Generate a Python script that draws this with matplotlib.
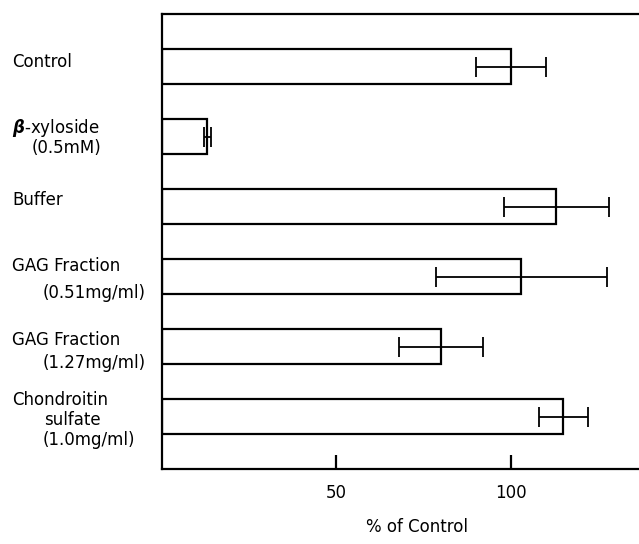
import numpy as np
import matplotlib
matplotlib.use("Agg")
import matplotlib.pyplot as plt
import matplotlib.transforms as mtransforms

# values (% of control)
groups = ["Control", "beta-xyloside", "Buffer", "GAG 0.51", "GAG 1.27", "Chondroitin"]
values = [100, 13, 113, 103, 80, 115]
errors = [10, 1, 15, 24.5, 12, 7]

# label lines per bar: (text, indent in px, vertical offset in bar units)
label_lines = [
    [("Control", 12, -0.07)],
    [(r"$\boldsymbol{\beta}$-xyloside", 12, -0.12), ("(0.5mM)", 32, 0.17)],
    [("Buffer", 12, -0.09)],
    [("GAG Fraction", 12, -0.15), ("(0.51mg/ml)", 43, 0.23)],
    [("GAG Fraction", 12, -0.09), ("(1.27mg/ml)", 43, 0.24)],
    [("Chondroitin", 12, -0.23), ("sulfate", 44, 0.05), ("(1.0mg/ml)", 43, 0.34)],
]
xticks = [50, 100]
xtick_labels = ["50", "100"]

plt.rcParams["font.family"] = ["DejaVu Sans"]
plt.rcParams["mathtext.fontset"] = "dejavusans"

fig = plt.figure(figsize=(6.39, 5.44), dpi=100)
ax = fig.add_axes([162 / 639, 1 - 469 / 544, 1 - 162 / 639, (469 - 14) / 544])

y = np.arange(len(values))
ax.barh(y, values, height=0.5, color="white", edgecolor="black", linewidth=1.6, zorder=2)
ax.errorbar(values, y, xerr=errors, fmt="none", ecolor="black", elinewidth=1.3,
            capsize=7.5, capthick=1.3, zorder=3)

ax.set_ylim(len(values) - 0.25, -0.75)
ax.set_xlim(0, 136.7)
ax.set_yticks([])
ax.set_xticks(xticks)
ax.set_xticklabels(xtick_labels, fontsize=12)
ax.tick_params(axis="x", direction="in", length=10, width=1.6, pad=11)
ax.spines["right"].set_visible(False)
for s in ("left", "bottom", "top"):
    ax.spines[s].set_linewidth(1.6)

# x in figure fraction, y in data units
trans = mtransforms.blended_transform_factory(fig.transFigure, ax.transData)
for i, lines in enumerate(label_lines):
    for txt, xpx, dy in lines:
        ax.text(xpx / 639, i + dy, txt, transform=trans, fontsize=12,
                ha="left", va="center")

fig.text(417 / 639, 1 - 527 / 544, "% of Control", fontsize=12, ha="center", va="center")

fig.savefig("out.png", dpi=100)
